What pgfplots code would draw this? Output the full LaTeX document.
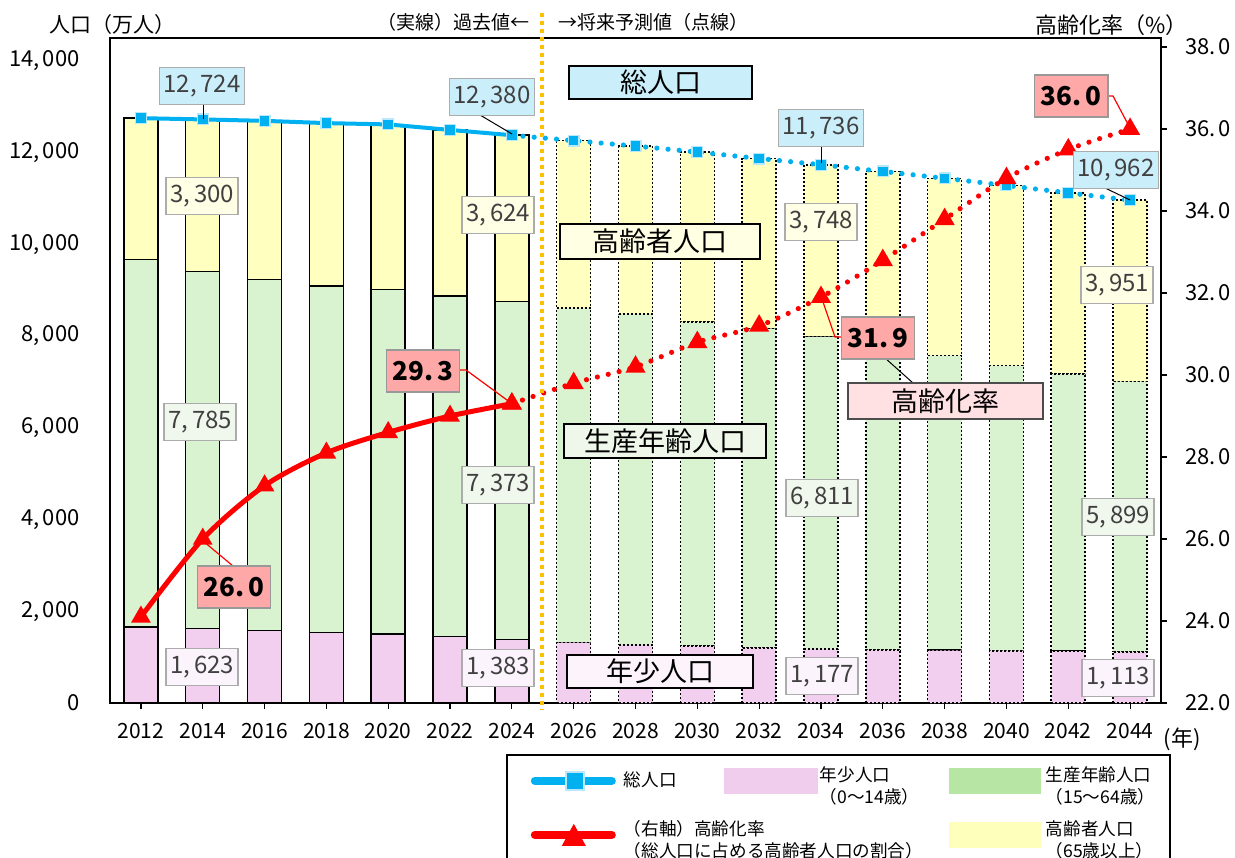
\documentclass[border=0pt]{standalone}
\usepackage{fontspec}
\setmainfont{Noto Sans CJK JP}
\usepackage{pgfplots}
\usepackage{pgfplotstable}
\pgfplotsset{compat=1.18}

\definecolor{pinkbar}{HTML}{F2CFEE}
\definecolor{greenbar}{HTML}{D9F2D0}
\definecolor{yellowbar}{HTML}{FFFFC0}
\definecolor{cyanline}{HTML}{00B0F0}
\definecolor{cyanlight}{HTML}{B9E8FA}
\definecolor{redline}{HTML}{FF0000}
\definecolor{orangev}{HTML}{FFC000}
\definecolor{lblblue}{HTML}{CBEEFB}
\definecolor{lblyellow}{HTML}{FFFFE6}
\definecolor{lblgreen}{HTML}{F0F8EE}
\definecolor{lblpink}{HTML}{FCF4FC}
\definecolor{lblred}{HTML}{FFA8A8}
\definecolor{lblredl}{HTML}{FFE1E3}
\definecolor{catyellow}{HTML}{FFFFE4}
\definecolor{catgreen}{HTML}{EEF7EA}
\definecolor{catpink}{HTML}{FCF3FB}
\definecolor{legpink}{HTML}{F0CDEC}
\definecolor{leggreen}{HTML}{B7E6A4}
\definecolor{legyellow}{HTML}{FFFFBC}
\definecolor{valtext}{HTML}{404040}

% 万人, x = 0 (2012) ... 16 (2044)
\pgfplotstableread{
x young working aged
0 1655 8018 3079
1 1623 7785 3300
2 1578 7656 3459
3 1542 7545 3557
4 1503 7509 3603
5 1450 7421 3624
6 1383 7373 3624
}\past
\pgfplotstableread{
x young working aged
7  1320 7287 3654
8  1270 7207 3667
9  1240 7072 3700
10 1200 6968 3704
11 1177 6811 3748
12 1160 6629 3802
13 1150 6423 3867
14 1140 6217 3927
15 1130 6044 3949
16 1113 5899 3951
}\future
\pgfplotstableread{
x total rate
0 12752 24.1
1 12724 26.0
2 12693 27.3
3 12644 28.1
4 12615 28.6
5 12495 29.0
6 12380 29.3
}\pastline
\pgfplotstableread{
x total rate
6  12380 29.3
7  12261 29.8
8  12144 30.2
9  12012 30.8
10 11872 31.2
11 11736 31.9
12 11591 32.8
13 11440 33.8
14 11284 34.8
15 11123 35.5
16 10962 36.0
}\futureline

\pgfplotsset{
  base/.style={scale only axis, width=525.5pt, height=332.5pt,
    at={(55pt,77pt)}, anchor=south west, xmin=-0.5, xmax=16.5},
}
\tikzset{
  vl/.style={draw=gray!65, line width=0.6pt, text=valtext, inner xsep=2pt,
    inner ysep=0pt, minimum height=18.5pt, font=\fontsize{12pt}{12pt}\selectfont},
  rl/.style={draw=gray!80, line width=0.6pt, fill=lblred, inner xsep=3.2pt,
    inner ysep=0pt, minimum height=21pt, font=\bfseries\fontsize{13pt}{13pt}\selectfont},
  cl/.style={draw=black, line width=0.6pt, inner sep=0pt,
    font=\fontsize{13.5pt}{13.5pt}\selectfont},
  fut/.style={draw=black, line width=0.8pt, dash pattern=on 1pt off 1pt},
}

\begin{document}
\begin{tikzpicture}

% past bars + frame + left axis
\begin{axis}[base, ybar stacked, bar width=17pt, ymin=0, ymax=14500,
  xtick={0,...,16},
  xticklabels={2012,2014,2016,2018,2020,2022,2024,2026,2028,2030,2032,2034,2036,2038,2040,2042,2044},
  ytick={0,2000,...,14000}, scaled y ticks=false,
  xtick pos=bottom, ytick pos=left,
  tick align=outside, major tick length=3pt,
  ytick style={draw=none}, xtick style={black, line width=0.6pt},
  axis line style={line width=0.8pt},
  xticklabel style={font=\fontsize{10.5pt}{12pt}\selectfont, inner sep=0pt, yshift=-7pt},
  yticklabel style={font=\fontsize{11pt}{12pt}\selectfont, inner sep=0pt, xshift=-12pt},
  /pgf/number format/1000 sep={,\hspace{1.5pt}},
  /pgf/number format/assume math mode=true]
\addplot[fill=pinkbar, draw=black, line width=0.75pt] table[x=x, y=young]{\past};
\addplot[fill=greenbar, draw=black, line width=0.75pt] table[x=x, y=working]{\past};
\addplot[fill=yellowbar, draw=black, line width=0.75pt] table[x=x, y=aged]{\past};
\end{axis}

% projected bars
\begin{axis}[base, hide axis, ybar stacked, bar width=17pt, ymin=0, ymax=14500]
\addplot[fill=pinkbar, fut] table[x=x, y=young]{\future};
\addplot[fill=greenbar, fut] table[x=x, y=working]{\future};
\addplot[fill=yellowbar, fut] table[x=x, y=aged]{\future};
\end{axis}

% total population
\begin{axis}[base, hide axis, ymin=0, ymax=14500]
\addplot[cyanline, line width=2pt, mark=square*, mark size=2.7pt,
  mark options={solid, fill=cyanline, draw=cyanlight, line width=0.6pt}]
  table[x=x, y=total]{\pastline};
\addplot[cyanline, line width=2.6pt, line cap=round, dash pattern=on 0pt off 5.6pt,
  mark=square*, mark size=2.7pt,
  mark options={solid, fill=cyanline, draw=cyanlight, line width=0.6pt}]
  table[x=x, y=total]{\futureline};
\end{axis}

% ageing rate, right axis, legend
\begin{axis}[base, ymin=22, ymax=38.22, axis y line*=right, axis x line=none,
  ytick={22,24,...,38}, tick align=outside, major tick length=3pt,
  ytick style={black, line width=0.6pt},
  axis line style={line width=0.8pt},
  yticklabel style={font=\fontsize{11pt}{12pt}\selectfont, inner sep=0pt, xshift=9pt},
  /pgf/number format/fixed, /pgf/number format/fixed zerofill,
  /pgf/number format/precision=1, /pgf/number format/dec sep={.\hspace{1.5pt}},
  /pgf/number format/assume math mode=true,
  legend columns=3, legend cell align=left,
  legend style={at={(0.3768,-0.0767)}, anchor=north west, draw=black,
    line width=0.8pt, inner sep=0pt, row sep=1pt,
    font=\fontsize{8.8pt}{11pt}\selectfont, nodes={inner sep=0pt}}]
\addplot[forget plot, redline, line width=2.5pt, smooth, tension=0.5,
  mark=triangle*, mark size=3.2pt, mark options={solid, fill=redline}]
  table[x=x, y=rate]{\pastline};
\addplot[forget plot, redline, line width=2.6pt, line cap=round, dash pattern=on 0pt off 5.6pt,
  smooth, tension=0.5, mark=triangle*, mark size=3.2pt, mark options={solid, fill=redline}]
  table[x=x, y=rate]{\futureline};

\addlegendimage{legend image code/.code={
  \path[draw=none, fill=none] (-12pt,-13pt) rectangle (46.5pt,13pt);
  \draw[cyanline, line width=4pt, line cap=round] (2pt,0pt) -- (40.5pt,0pt);
  \fill[cyanlight, draw=none] (17pt,-5pt) rectangle (27pt,5pt);
  \fill[cyanline, draw=none] (18pt,-4pt) rectangle (26pt,4pt);}}
\addlegendentry{\makebox[50pt][l]{総人口}}
\addlegendimage{legend image code/.code={
  \path[draw=none, fill=none] (0pt,-13pt) rectangle (48pt,13pt);
  \fill[legpink, draw=none] (0pt,-6.5pt) rectangle (47pt,6.5pt);}}
\addlegendentry{\makebox[64.5pt][l]{\begin{tabular}{@{}l@{}}年少人口\\（0〜14歳）\end{tabular}}}
\addlegendimage{legend image code/.code={
  \path[draw=none, fill=none] (0pt,-13pt) rectangle (48.5pt,13pt);
  \fill[leggreen, draw=none] (0pt,-6.5pt) rectangle (46pt,6.5pt);}}
\addlegendentry{\makebox[62pt][l]{\begin{tabular}{@{}l@{}}生産年齢人口\\（15〜64歳）\end{tabular}}}
\addlegendimage{legend image code/.code={
  \path[draw=none, fill=none] (-12pt,-13pt) rectangle (46.5pt,13pt);
  \draw[redline, line width=4pt, line cap=round] (2pt,0pt) -- (40.5pt,0pt);
  \fill[redline, draw=none] (15.5pt,-5.5pt) -- (27.5pt,-5.5pt) -- (21.5pt,5.5pt) -- cycle;}}
\addlegendentry{\makebox[50pt][l]{\makebox[0pt][l]{\begin{tabular}{@{}l@{}}（右軸）高齢化率\\（総人口に占める高齢者人口の割合）\end{tabular}}}}
\addlegendimage{empty legend}
\addlegendentry{}
\addlegendimage{legend image code/.code={
  \path[draw=none, fill=none] (0pt,-13pt) rectangle (48.5pt,13pt);
  \fill[legyellow, draw=none] (0pt,-6.5pt) rectangle (46pt,6.5pt);}}
\addlegendentry{\makebox[62pt][l]{\begin{tabular}{@{}l@{}}高齢者人口\\（65歳以上）\end{tabular}}}
\end{axis}

\begin{scope}[x=0.5pt, y=0.5pt]
% past / projection divider
\draw[orangev, line width=2pt, dash pattern=on 2pt off 2pt] (542,844) -- (542,147);

% titles
\node[anchor=west, font=\fontsize{10.5pt}{12pt}\selectfont] at (42,832) {人口（万人）};
\node[anchor=west, font=\fontsize{11pt}{12pt}\selectfont] at (1028,832) {高齢化率（\%）};
\node[anchor=east, font=\fontsize{9.5pt}{11pt}\selectfont] at (537,835) {（実線）過去値←};
\node[anchor=west, font=\fontsize{9.5pt}{11pt}\selectfont] at (551,835) {→将来予測値（点線）};
\node[font=\fontsize{11pt}{12pt}\selectfont] at (1182,118) {(年)};

% leader lines
\begin{scope}[black, line width=0.5pt]
\draw (203,753) -- (203,738);
\draw (480,742) -- (512,723);
\draw (821,711) -- (821,694);
\draw (1105,669) -- (1130,657);
\draw (885,499) -- (913,474);
\end{scope}
\begin{scope}[redline, line width=0.6pt]
\draw (233,291) -- (203,316);
\draw (457,487) -- (466,487) -- (511,454);
\draw (844,520) -- (835,520) -- (822,558);
\draw (1105,761) -- (1113,761) -- (1130,729);
\end{scope}

% value labels
\node[vl, fill=lblblue] at (202,771) {12,\,724};
\node[vl, fill=lblblue] at (492,760) {12,\,380};
\node[vl, fill=lblblue] at (821,729) {11,\,736};
\node[vl, fill=lblblue] at (1116,687) {10,\,962};
\node[vl, fill=lblyellow] at (202,661) {3,\,300};
\node[vl, fill=lblyellow] at (498,642) {3,\,624};
\node[vl, fill=lblyellow] at (821,635) {3,\,748};
\node[vl, fill=lblyellow] at (1117,572) {3,\,951};
\node[vl, fill=lblgreen] at (200,435) {7,\,785};
\node[vl, fill=lblgreen] at (498,372) {7,\,373};
\node[vl, fill=lblgreen] at (822,359) {6,\,811};
\node[vl, fill=lblgreen] at (1118,340) {5,\,899};
\node[vl, fill=lblpink] at (202,190) {1,\,623};
\node[vl, fill=lblpink] at (498,189) {1,\,383};
\node[vl, fill=lblpink] at (822,181) {1,\,177};
\node[vl, fill=lblpink] at (1118,179) {1,\,113};

\node[rl] at (234,270) {26.\,0};
\node[rl] at (423,486) {29.\,3};
\node[rl] at (878,519) {31.\,9};
\node[rl] at (1071,761) {36.\,0};

% series names
\node[cl, fill=lblblue, minimum width=91.5pt, minimum height=16.5pt] at (660.5,774.5) {総人口};
\node[cl, fill=catyellow, minimum width=100pt, minimum height=17.5pt] at (660,615.5) {高齢者人口};
\node[cl, fill=catgreen, minimum width=101pt, minimum height=17pt] at (665,416) {生産年齢人口};
\node[cl, fill=catpink, minimum width=93pt, minimum height=16.5pt] at (660,185.5) {年少人口};
\node[cl, draw=gray!60!black, fill=lblredl, minimum width=97.5pt, minimum height=18pt] at (945.5,456) {高齢化率};
\end{scope}

\pgfresetboundingbox
\useasboundingbox (0,0) rectangle (617.5pt,428.5pt);
\end{tikzpicture}
\end{document}
